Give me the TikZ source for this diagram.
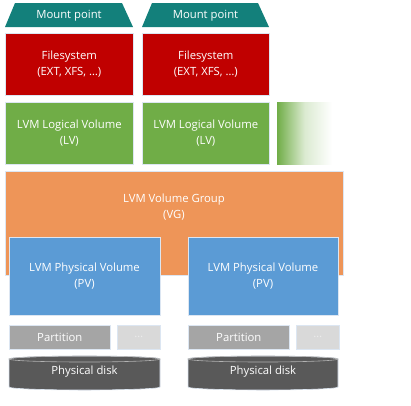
\documentclass[tikz,border=0pt]{standalone}
\usepackage{fontspec}
\setmainfont{Open Sans}
\definecolor{teal1}{HTML}{13807B}
\definecolor{red1}{HTML}{C00000}
\definecolor{green1}{HTML}{70AD47}
\definecolor{orange1}{HTML}{EE9558}
\definecolor{blue1}{HTML}{5B9BD5}
\definecolor{gray1}{HTML}{A5A5A5}
\definecolor{gray2}{HTML}{D9D9D9}
\definecolor{disk}{HTML}{595959}
\definecolor{edge}{HTML}{DCE6F2}
\begin{document}
\begin{tikzpicture}[x=1pt,y=-1pt,
  txt/.style={text=white,font=\fontsize{11.3}{16}\selectfont,align=center,inner sep=0pt},
  box/.style={draw=edge,line width=0.6pt,inner sep=0pt,anchor=north west}]
\useasboundingbox (0,0) rectangle (411,405);
% mount points
\fill[teal1] (5,27) -- (15,3) -- (122,3) -- (133,27) -- cycle;
\node[txt] (m1) at (69,15.5) {Mount point};
\fill[teal1] (142,27) -- (152,3) -- (258,3) -- (269,27) -- cycle;
\node[txt] (m2) at (205.5,15.5) {Mount point};
% filesystems
\node[box,fill=red1,minimum width=128pt,minimum height=62pt] (fs1) at (5,33) {};
\node[txt] (fs1t) at (fs1.center) {Filesystem\\(EXT, XFS, \dots)};
\node[box,fill=red1,minimum width=127pt,minimum height=62pt] (fs2) at (142,33) {};
\node[txt] (fs2t) at (fs2.center) {Filesystem\\(EXT, XFS, \dots)};
% logical volumes
\node[box,fill=green1,minimum width=128pt,minimum height=62pt] (lv1) at (5,102) {};
\node[txt] (lv1t) at (lv1.center) {LVM Logical Volume\\(LV)};
\node[box,fill=green1,minimum width=127pt,minimum height=62pt] (lv2) at (142,102) {};
\node[txt] (lv2t) at (lv2.center) {LVM Logical Volume\\(LV)};
\shade[left color=green1,right color=white,middle color=green1!25] (277,102) rectangle (332,164);
% volume group
\node[box,fill=orange1,minimum width=338pt,minimum height=104pt] (vg) at (5,171) {};
\node[txt] (vgt) at (174,207) {LVM Volume Group\\(VG)};
% physical volumes
\node[box,fill=blue1,minimum width=151pt,minimum height=78pt] (pv1) at (9,237) {};
\node[txt] (pv1t) at (84.5,276) {LVM Physical Volume\\(PV)};
\node[box,fill=blue1,minimum width=150pt,minimum height=78pt] (pv2) at (188,237) {};
\node[txt] (pv2t) at (263,276) {LVM Physical Volume\\(PV)};
% partitions
\node[box,fill=gray1,minimum width=101pt,minimum height=24pt] (pa1) at (9,325) {};
\node[txt] (pa1t) at (pa1.center) {Partition};
\node[box,fill=gray2,minimum width=43pt,minimum height=24pt] (pd1) at (117,325) {};
\node[txt,text=white!85!gray] (pd1t) at (pd1.center) {\dots};
\node[box,fill=gray1,minimum width=101pt,minimum height=24pt] (pa2) at (188,325) {};
\node[txt] (pa2t) at (pa2.center) {Partition};
\node[box,fill=gray2,minimum width=43pt,minimum height=24pt] (pd2) at (296,325) {};
\node[txt,text=white!85!gray] (pd2t) at (pd2.center) {\dots};
% disks
\foreach \x/\w/\n in {9/151/1,188/150/2}{
  \fill[disk,draw=edge,line width=0.6pt] (\x,359) -- (\x,387) arc[start angle=180,end angle=360,x radius=\w/2,y radius=-3] -- (\x+\w,359) arc[start angle=0,end angle=180,x radius=\w/2,y radius=-3] -- cycle;
  \draw[gray!60,line width=0.6pt] (\x+\w/2,359) ellipse[x radius=\w/2,y radius=3];
  \node[txt] (d\n) at (\x+\w/2,372) {Physical disk};
}
\end{tikzpicture}
\end{document}
